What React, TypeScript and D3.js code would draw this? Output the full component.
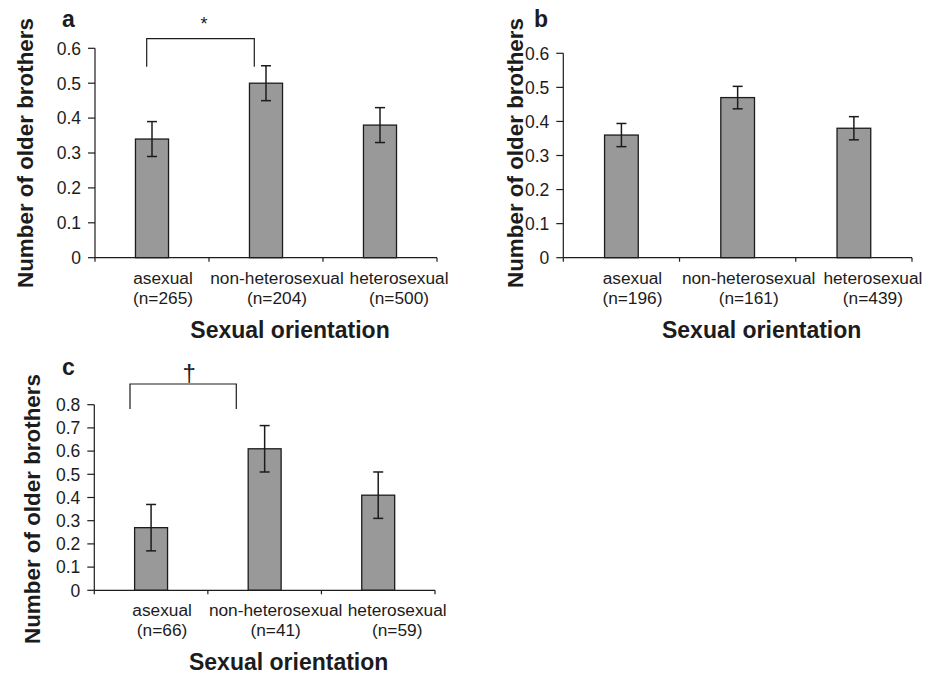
import React from "react";
import * as d3 from "d3";

// Categories and per-panel summary statistics (mean number of older brothers, SE)
const categories = ["asexual", "non-heterosexual", "heterosexual"];

const countsA = [265, 204, 500];
const meansA = [0.34, 0.5, 0.38];
const errorsA = [0.05, 0.05, 0.05];

const countsB = [196, 161, 439];
const meansB = [0.36, 0.47, 0.38];
const errorsB = [0.034, 0.033, 0.034];

const countsC = [66, 41, 59];
const meansC = [0.27, 0.61, 0.41];
const errorsC = [0.1, 0.1, 0.1];

const ticksAB = [0, 0.1, 0.2, 0.3, 0.4, 0.5, 0.6];
const ticksC = [0, 0.1, 0.2, 0.3, 0.4, 0.5, 0.6, 0.7, 0.8];

const yTitle = "Number of older brothers";
const xTitle = "Sexual orientation";

const FONT = "'Liberation Sans', Arial, Helvetica, sans-serif";
const INK = "#1c1c1c";
const BAR_FILL = "#999999";

// horizontal shift of each category label relative to its band centre
const labelShift = [11, 11, 19];

type Bracket = { x1: number; x2: number; top: number; bottom: number; mark: string; markX: number; markY: number; markSize: number };

type PanelProps = {
  letter: string;
  letterX: number;
  letterY: number;
  x0: number;
  x1: number;
  yTop: number;
  yBottom: number;
  ticks: number[];
  means: number[];
  errors: number[];
  counts: number[];
  titleX: number;
  titleY: number;
  bracket?: Bracket;
};

function Panel(p: PanelProps) {
  const yMax = p.ticks[p.ticks.length - 1];
  const y = d3.scaleLinear().domain([0, yMax]).range([p.yBottom, p.yTop]);
  const x = d3.scaleBand<string>().domain(categories).range([p.x0, p.x1]).padding(0);
  const bw = x.bandwidth();
  const barW = bw * 0.29;
  const capW = 10;
  const boundaries = d3.range(categories.length + 1).map((i) => p.x0 + i * bw);

  return (
    <g>
      {/* panel letter */}
      <text x={p.letterX} y={p.letterY} fontFamily={FONT} fontWeight="bold" fontSize={23} fill={INK}>
        {p.letter}
      </text>

      {/* bars */}
      {categories.map((c, i) => {
        const cx = (x(c) as number) + bw / 2;
        return (
          <rect
            key={"bar" + c}
            x={cx - barW / 2}
            y={y(p.means[i])}
            width={barW}
            height={y(0) - y(p.means[i])}
            fill={BAR_FILL}
            stroke={INK}
            strokeWidth={1.3}
          />
        );
      })}

      {/* error bars */}
      {categories.map((c, i) => {
        const cx = (x(c) as number) + bw / 2;
        const hi = y(p.means[i] + p.errors[i]);
        const lo = y(p.means[i] - p.errors[i]);
        return (
          <g key={"err" + c} stroke={INK} strokeWidth={1.5}>
            <line x1={cx} x2={cx} y1={hi} y2={lo} />
            <line x1={cx - capW / 2} x2={cx + capW / 2} y1={hi} y2={hi} />
            <line x1={cx - capW / 2} x2={cx + capW / 2} y1={lo} y2={lo} />
          </g>
        );
      })}

      {/* y axis */}
      <line x1={p.x0} x2={p.x0} y1={p.yTop} y2={p.yBottom} stroke={INK} strokeWidth={1.2} />
      {p.ticks.map((t) => (
        <g key={"yt" + t}>
          <line x1={p.x0 - 7} x2={p.x0} y1={y(t)} y2={y(t)} stroke={INK} strokeWidth={1.2} />
          <text
            x={p.x0 - 14}
            y={y(t)}
            dy="0.36em"
            textAnchor="end"
            fontFamily={FONT}
            fontSize={17.5}
            fill={INK}
          >
            {d3.format("")(+t.toFixed(1))}
          </text>
        </g>
      ))}

      {/* x axis */}
      <line x1={p.x0} x2={p.x1} y1={p.yBottom} y2={p.yBottom} stroke={INK} strokeWidth={1.2} />
      {boundaries.map((bx, i) => (
        <line key={"xt" + i} x1={bx} x2={bx} y1={p.yBottom} y2={p.yBottom + 4} stroke={INK} strokeWidth={1.2} />
      ))}
      {categories.map((c, i) => {
        const cx = (x(c) as number) + bw / 2 + labelShift[i];
        return (
          <text key={"xl" + c} textAnchor="middle" fontFamily={FONT} fontSize={17.3} fill={INK}>
            <tspan x={cx} y={p.yBottom + 26}>
              {c}
            </tspan>
            <tspan x={cx} y={p.yBottom + 46}>
              {`(n=${p.counts[i]})`}
            </tspan>
          </text>
        );
      })}

      {/* axis titles */}
      <text
        x={(p.x0 + p.x1) / 2 + 24}
        y={p.yBottom + 80}
        textAnchor="middle"
        fontFamily={FONT}
        fontWeight="bold"
        fontSize={23}
        fill={INK}
      >
        {xTitle}
      </text>
      <text
        transform={`translate(${p.titleX},${p.titleY}) rotate(-90)`}
        textAnchor="middle"
        fontFamily={FONT}
        fontWeight="bold"
        fontSize={22.4}
        fill={INK}
      >
        {yTitle}
      </text>

      {/* significance bracket */}
      {p.bracket && (
        <g>
          <path
            d={`M${p.bracket.x1},${p.bracket.bottom}V${p.bracket.top}H${p.bracket.x2}V${p.bracket.bottom}`}
            fill="none"
            stroke={INK}
            strokeWidth={1.2}
          />
          <text
            x={p.bracket.markX}
            y={p.bracket.markY}
            textAnchor="middle"
            fontFamily={FONT}
            fontSize={p.bracket.markSize}
            fill={INK}
          >
            {p.bracket.mark}
          </text>
        </g>
      )}
    </g>
  );
}

export default function App() {
  return (
    <svg
      width={925}
      height={676}
      style={{ position: "absolute", left: 0, top: 0, background: "#fff" }}
    >
      <rect width={925} height={676} fill="#fff" />
      <Panel
        letter="a"
        letterX={62}
        letterY={27}
        x0={95}
        x1={437}
        yTop={48.3}
        yBottom={257.7}
        ticks={ticksAB}
        means={meansA}
        errors={errorsA}
        counts={countsA}
        titleX={33}
        titleY={153}
        bracket={{ x1: 146.7, x2: 254.3, top: 38.7, bottom: 66.7, mark: "*", markX: 204, markY: 30, markSize: 18 }}
      />
      <Panel
        letter="b"
        letterX={534}
        letterY={27}
        x0={563.3}
        x1={912}
        yTop={53.3}
        yBottom={257.7}
        ticks={ticksAB}
        means={meansB}
        errors={errorsB}
        counts={countsB}
        titleX={523}
        titleY={153}
      />
      <Panel
        letter="c"
        letterX={62}
        letterY={375}
        x0={94.3}
        x1={435}
        yTop={404.7}
        yBottom={590.3}
        ticks={ticksC}
        means={meansC}
        errors={errorsC}
        counts={countsC}
        titleX={39.5}
        titleY={509}
        bracket={{ x1: 130, x2: 236.3, top: 384, bottom: 409, mark: "\u2020", markX: 189.3, markY: 381, markSize: 24 }}
      />
    </svg>
  );
}
